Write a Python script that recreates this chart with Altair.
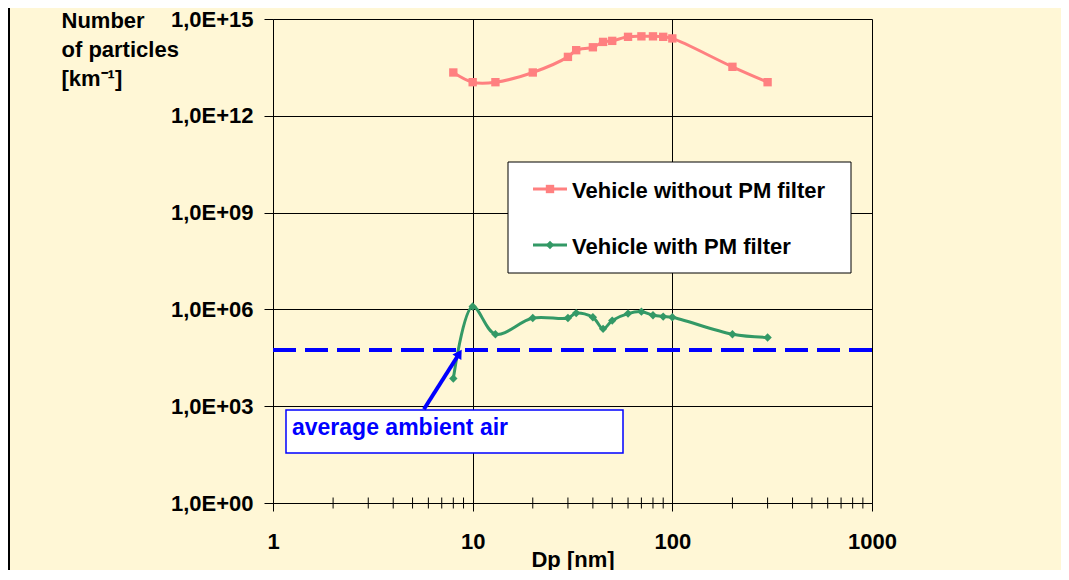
import altair as alt
import pandas as pd

# ---------------- data ----------------
dp = [8, 10, 13, 20, 30, 33, 40, 45, 50, 60, 70, 80, 90, 100, 200, 300]
without_filter = [2.2e13, 1.1e13, 1.1e13, 2.2e13, 6.7e13, 1.08e14, 1.33e14, 1.95e14,
                  2.1e14, 2.8e14, 2.9e14, 2.9e14, 2.8e14, 2.5e14, 3.3e13, 1.1e13]
with_filter = [7.2e3, 1.23e6, 1.7e5, 5.4e5, 5.4e5, 7.7e5, 5.7e5, 2.5e5,
               4.5e5, 7.4e5, 8.5e5, 6.6e5, 6.0e5, 5.7e5, 1.7e5, 1.35e5]
series_names = ["Vehicle without PM filter", "Vehicle with PM filter"]
series_colors = ["#FF8080", "#339966"]
series_shapes = ["square", "diamond"]
ambient_level = 5.5e4
ambient_label = "average ambient air"
arrow_tail = [5.7, 805]
arrow_base = [8.57, 4.3e4]
x_ticks = [1, 10, 100, 1000]
x_minor = [2, 3, 4, 5, 6, 7, 8, 9, 20, 30, 40, 50, 60, 70, 80, 90,
           200, 300, 400, 500, 600, 700, 800, 900]
y_ticks = [1e0, 1e3, 1e6, 1e9, 1e12, 1e15]
x_title = "Dp [nm]"
y_title = ["Number", "of particles", "[km\u207b\u00b9]"]

FONT = "Liberation Sans"
W, H = 599, 484
BLUE = "#0000FF"
BG = "#FFF7D6"

df = pd.DataFrame({
    "Dp": dp * 2,
    "N": without_filter + with_filter,
    "series": [series_names[0]] * len(dp) + [series_names[1]] * len(dp),
})

xscale = alt.Scale(type="log", domain=[1, 1000], nice=False)
yscale = alt.Scale(type="log", domain=[1, 1e15], nice=False)

x_axis = alt.Axis(values=x_ticks, format="d", grid=True, gridColor="#000000",
                  gridWidth=1, tickSize=8, tickColor="#000000", domainColor="#000000",
                  labelFont=FONT, labelFontSize=22, labelFontWeight="bold",
                  labelColor="#000000", labelPadding=20, labelFlush=False,
                  title=x_title, titleFont=FONT, titleFontSize=22,
                  titleFontWeight="bold", titleColor="#000000",
                  titleX=W / 2, titleY=46, titleBaseline="top", titleAlign="center")
y_axis = alt.Axis(values=y_ticks, grid=True, gridColor="#000000", gridWidth=1,
                  tickSize=9, tickColor="#000000", domainColor="#000000",
                  labelExpr="'1,0E+' + (round(log(datum.value)/LN10) < 10 ? '0' : '') + round(log(datum.value)/LN10)",
                  labelFont=FONT, labelFontSize=22, labelFontWeight="bold",
                  labelColor="#000000", labelPadding=11,
                  title=y_title, titleFont=FONT, titleFontSize=22,
                  titleFontWeight="bold", titleColor="#000000", titleAngle=0,
                  titleAlign="left", titleBaseline="alphabetic",
                  titleX=-212, titleY=8.5, titleLineHeight=29)

color = alt.Color("series:N", scale=alt.Scale(domain=series_names, range=series_colors), legend=None)
shape = alt.Shape("series:N", scale=alt.Scale(domain=series_names, range=series_shapes), legend=None)

base = alt.Chart(df).encode(
    x=alt.X("Dp:Q", scale=xscale, axis=x_axis),
    y=alt.Y("N:Q", scale=yscale, axis=y_axis),
)

lines = base.mark_line(strokeWidth=3, interpolate="catmull-rom").encode(color=color, detail="series:N")
points = base.mark_point(filled=True, opacity=1, size=70).encode(color=color, shape=shape)

one = pd.DataFrame({"k": [0]})

# ambient dashed line
ambient = alt.Chart(pd.DataFrame({"N": [ambient_level]})).mark_rule(
    color=BLUE, strokeWidth=4, strokeDash=[23, 9]
).encode(y=alt.Y("N:Q", scale=yscale))

# annotation box
box = alt.Chart(one).mark_rect(fill="white", stroke=BLUE, strokeWidth=1.5).encode(
    x=alt.value(13), x2=alt.value(350), y=alt.value(391), y2=alt.value(434))
box_text = alt.Chart(one).mark_text(
    text=ambient_label, font=FONT, fontSize=23, fontWeight="bold", color=BLUE,
    align="left", baseline="alphabetic"
).encode(x=alt.value(19), y=alt.value(415.5))

# arrow
arrow_df = pd.DataFrame({"x": [arrow_tail[0]], "y": [arrow_tail[1]],
                         "x2": [arrow_base[0]], "y2": [arrow_base[1]]})
arrow_line = alt.Chart(arrow_df).mark_rule(color=BLUE, strokeWidth=4).encode(
    x=alt.X("x:Q", scale=xscale), y=alt.Y("y:Q", scale=yscale), x2="x2:Q", y2="y2:Q")
arrow_head = alt.Chart(pd.DataFrame({"x": [arrow_base[0]], "y": [arrow_base[1]]})).mark_point(
    shape="triangle-up", angle=32, filled=True, color=BLUE, opacity=1, size=110
).encode(x=alt.X("x:Q", scale=xscale), y=alt.Y("y:Q", scale=yscale))

# minor x ticks (cross)
minor = alt.Chart(pd.DataFrame({"Dp": x_minor})).mark_rule(color="#000000", strokeWidth=1).encode(
    x=alt.X("Dp:Q", scale=xscale), y=alt.value(H - 5.5), y2=alt.value(H + 5.5))

# legend (manual)
leg_box = alt.Chart(one).mark_rect(fill="white", stroke="#000000", strokeWidth=1).encode(
    x=alt.value(235), x2=alt.value(578), y=alt.value(143), y2=alt.value(254))
leg_layers = [leg_box]
for name, col, shp, ly in zip(series_names, series_colors, series_shapes, [170, 226]):
    leg_layers.append(alt.Chart(one).mark_rule(color=col, strokeWidth=3).encode(
        x=alt.value(260), x2=alt.value(294), y=alt.value(ly)))
    leg_layers.append(alt.Chart(one).mark_point(shape=shp, filled=True, color=col, opacity=1, size=70).encode(
        x=alt.value(277), y=alt.value(ly)))
    leg_layers.append(alt.Chart(one).mark_text(
        text=name, font=FONT, fontSize=22, fontWeight="bold", color="#000000",
        align="left", baseline="alphabetic").encode(x=alt.value(299), y=alt.value(ly + 9)))

# left border of the chart area
border = alt.Chart(one).mark_rule(color="#000000", strokeWidth=2).encode(
    x=alt.value(-264), y=alt.value(-20), y2=alt.value(H + 90))

chart = alt.layer(
    lines, points, minor, ambient, box, box_text, arrow_line, arrow_head,
    *leg_layers, border
).properties(
    width=W, height=H,
    autosize=alt.AutoSizeParams(type="none"),
    padding={"left": 265, "top": 11, "right": 189, "bottom": 67},
    background=BG,
).configure_view(fill="white", stroke="transparent").configure(font=FONT)

chart.save("out.html", embed_options={"renderer": "svg", "actions": False})
